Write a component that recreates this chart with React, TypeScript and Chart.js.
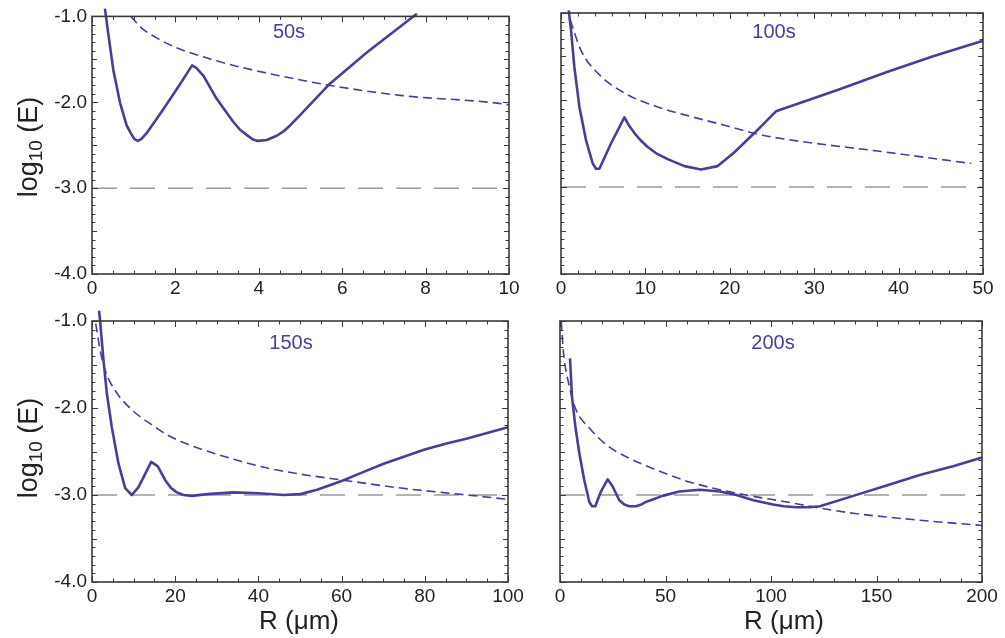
import React, { useEffect, useRef } from "react";
import { Chart, registerables } from "chart.js";

Chart.register(...registerables);
Chart.defaults.font.family = "'Liberation Sans', Arial, sans-serif";

// ---------- DATA ----------
// Panel 50 s
const r50Solid = [0.31, 0.39, 0.51, 0.67, 0.83, 0.93, 1.02, 1.1, 1.18, 1.31, 1.71, 2.11, 2.4, 2.5, 2.67, 2.99, 3.39, 3.55, 3.71, 3.85, 3.97, 4.19, 4.43, 4.59, 4.75, 4.99, 5.67, 6.59, 7.79];
const e50Solid = [-0.91, -1.2, -1.62, -2.0, -2.27, -2.36, -2.43, -2.45, -2.43, -2.36, -2.08, -1.79, -1.57, -1.6, -1.69, -1.96, -2.23, -2.32, -2.38, -2.43, -2.45, -2.44, -2.39, -2.34, -2.27, -2.15, -1.8, -1.42, -0.97];
const r50Dash = [0.93, 1.2, 1.55, 2.0, 2.59, 3.15, 4.19, 5.79, 7.39, 10.0, 10.18];
const e50Dash = [-1.0, -1.14, -1.25, -1.36, -1.46, -1.54, -1.66, -1.81, -1.92, -2.03, -2.05];

// Panel 100 s
const r100Solid = [0.91, 1.19, 1.58, 2.18, 2.96, 3.76, 4.15, 4.55, 5.92, 7.51, 8.1, 8.7, 9.4, 10.27, 11.4, 12.64, 14.62, 16.59, 18.57, 20.55, 22.91, 25.47, 32.6, 38.55, 44, 50];
const e100Solid = [-0.97, -1.2, -1.62, -2.08, -2.46, -2.73, -2.79, -2.79, -2.5, -2.2, -2.3, -2.38, -2.46, -2.54, -2.62, -2.68, -2.76, -2.8, -2.76, -2.6, -2.38, -2.13, -1.89, -1.68, -1.5, -1.32];
const r100Dash = [1.1, 2.37, 4.35, 7.51, 11.46, 15.4, 19.36, 22.75, 25.28, 38.55, 48.62];
const e100Dash = [-1.08, -1.43, -1.69, -1.92, -2.08, -2.19, -2.29, -2.38, -2.43, -2.6, -2.73];

// Panel 150 s
const r150Solid = [1.7, 1.97, 2.76, 3.56, 4.76, 6.37, 7.98, 9.57, 11.18, 14.23, 15.82, 17.6, 19.0, 20.4, 22.0, 24.0, 27.7, 34.1, 40.0, 46.1, 50.1, 54.1, 60.5, 65.0, 70.1, 79.8, 85.0, 90.2, 100];
const e150Solid = [-0.88, -1.01, -1.45, -1.83, -2.22, -2.64, -2.92, -3.0, -2.91, -2.62, -2.67, -2.83, -2.92, -2.97, -3.0, -3.01, -2.99, -2.97, -2.98, -3.0, -2.99, -2.94, -2.83, -2.74, -2.64, -2.48, -2.41, -2.35, -2.22];
const r150Dash = [0.9, 1.97, 3.17, 5.58, 9.57, 15.2, 18.1, 23.2, 26.1, 34.1, 42.1, 50.1, 60.5, 74.2, 90.2, 100];
const e150Dash = [-1.03, -1.34, -1.57, -1.8, -2.02, -2.22, -2.31, -2.42, -2.47, -2.59, -2.69, -2.76, -2.83, -2.92, -3.0, -3.05];

// Panel 200 s
const r200Solid = [4.74, 5.68, 7.26, 9.16, 11.5, 13.9, 15.2, 16.7, 19.4, 22.6, 24.9, 28.1, 30.5, 32.8, 36.0, 38.5, 40.7, 48.6, 56.5, 66.3, 75.8, 83.7, 91.6, 101, 106, 112, 118, 123.2, 139, 154.8, 170.5, 186.3, 200];
const e200Solid = [-1.43, -1.87, -2.21, -2.52, -2.83, -3.08, -3.13, -3.13, -2.96, -2.82, -2.9, -3.06, -3.11, -3.13, -3.13, -3.11, -3.08, -3.01, -2.96, -2.94, -2.96, -3.0, -3.06, -3.11, -3.13, -3.14, -3.14, -3.13, -3.01, -2.89, -2.77, -2.67, -2.57];
const r200Dash = [0.6, 1.6, 4.5, 7.58, 13.9, 21.8, 29.7, 45.5, 61.3, 83.7, 107.4, 123.2, 139, 170.5, 200];
const e200Dash = [-1.0, -1.35, -1.76, -2.02, -2.23, -2.42, -2.54, -2.71, -2.85, -2.98, -3.08, -3.15, -3.21, -3.29, -3.35];

const refLevel = -3.0;
const yTickLabels = [-1.0, -2.0, -3.0, -4.0];
const panelTitles = ["50s", "100s", "150s", "200s"];
const xMaxima = [10, 50, 100, 200];
const xLabelSteps = [2, 10, 20, 50];
const xMinorSteps = [0.5, 2, 5, 10];

// ---------- STYLE ----------
const PURPLE = "#4e3b97";
const GREY = "#9b9b9b";
const AXIS = "#3a3a3a";
const FONT = "'Liberation Sans', Arial, Helvetica, sans-serif";

const pts = (xs: number[], ys: number[]) => xs.map((x, i) => ({ x, y: ys[i] }));

const frameTicks = {
  id: "frameTicks",
  afterDatasetsDraw(chart: any, _a: any, opts: any) {
    const { ctx, chartArea: a, scales } = chart;
    const xs = scales.x;
    const ys = scales.y;
    ctx.save();
    ctx.strokeStyle = AXIS;
    ctx.lineWidth = 1;
    const line = (x1: number, y1: number, x2: number, y2: number) => {
      ctx.beginPath();
      ctx.moveTo(x1, y1);
      ctx.lineTo(x2, y2);
      ctx.stroke();
    };
    const isMult = (v: number, s: number) => Math.abs(v / s - Math.round(v / s)) < 1e-6;
    const nx = Math.round((xs.max - xs.min) / opts.xMinor);
    for (let i = 0; i <= nx; i++) {
      const v = xs.min + i * opts.xMinor;
      const px = Math.round(xs.getPixelForValue(v)) + 0.5;
      const len = isMult(v, opts.xMajor) ? 6 : 3.5;
      line(px, a.bottom, px, a.bottom - len);
      line(px, a.top, px, a.top + len);
    }
    const ny = Math.round((ys.max - ys.min) / 0.1);
    for (let i = 0; i <= ny; i++) {
      const v = ys.min + i * 0.1;
      const py = Math.round(ys.getPixelForValue(v)) + 0.5;
      const len = isMult(v, 1) ? 6 : isMult(v, 0.5) ? 5 : 3.5;
      line(a.left, py, a.left + len, py);
      line(a.right, py, a.right - len, py);
    }
    ctx.lineWidth = 1.6;
    ctx.strokeRect(a.left, a.top, a.right - a.left, a.bottom - a.top);
    ctx.restore();
  },
};

type PanelProps = {
  idx: number;
  solidX: number[];
  solidY: number[];
  dashX: number[];
  dashY: number[];
  left: number;
  top: number;
  width: number;
  height: number;
  padLeft: number;
  padRight: number;
  padTop: number;
  xAxisH: number;
  showY: boolean;
};

function Panel(p: PanelProps) {
  const ref = useRef<HTMLCanvasElement | null>(null);
  useEffect(() => {
    if (!ref.current) return;
    const xMax = xMaxima[p.idx];
    const chart = new Chart(ref.current, {
      type: "scatter",
      data: {
        datasets: [
          {
            data: pts([0, xMax], [refLevel, refLevel]),
            borderColor: GREY,
            borderWidth: 1.5,
            borderDash: [25, 13],
            showLine: true,
            pointRadius: 0,
            order: 3,
          },
          {
            data: pts(p.dashX, p.dashY),
            borderColor: PURPLE,
            borderWidth: 1.6,
            borderDash: [9, 5],
            showLine: true,
            pointRadius: 0,
            cubicInterpolationMode: "monotone",
            clip: false,
            order: 2,
          },
          {
            data: pts(p.solidX, p.solidY),
            borderColor: PURPLE,
            borderWidth: 2.6,
            borderJoinStyle: "round",
            showLine: true,
            pointRadius: 0,
            tension: 0,
            clip: false,
            order: 1,
          },
        ] as any,
      },
      options: {
        animation: false,
        responsive: false,
        devicePixelRatio: 1,
        events: [],
        layout: {
          autoPadding: false,
          padding: { left: p.padLeft, right: p.padRight, top: p.padTop, bottom: 0 },
        },
        plugins: {
          legend: { display: false },
          tooltip: { enabled: false },
          frameTicks: { xMinor: xMinorSteps[p.idx], xMajor: xLabelSteps[p.idx] },
        } as any,
        scales: {
          x: {
            type: "linear",
            min: 0,
            max: xMax,
            grid: { display: false, drawTicks: false },
            border: { display: false },
            ticks: {
              stepSize: xLabelSteps[p.idx],
              autoSkip: false,
              maxRotation: 0,
              padding: 3,
              color: "#222",
              font: { size: 19, family: FONT },
            },
            afterFit: (s: any) => {
              s.height = p.xAxisH;
            },
          },
          y: {
            type: "linear",
            min: -4,
            max: -1,
            display: p.showY,
            grid: { display: false, drawTicks: false },
            border: { display: false },
            afterBuildTicks: (s: any) => {
              s.ticks = yTickLabels.map((v) => ({ value: v }));
            },
            ticks: {
              padding: 5,
              color: "#222",
              font: { size: 19, family: FONT },
              callback: (v: any) => Number(v).toFixed(1),
            },
            afterFit: (s: any) => {
              s.width = p.showY ? 92 : 0;
            },
          },
        },
      } as any,
      plugins: [frameTicks],
    });
    return () => chart.destroy();
  }, []);
  return (
    <canvas
      ref={ref}
      width={p.width}
      height={p.height}
      style={{ position: "absolute", left: p.left, top: p.top, width: p.width, height: p.height }}
    />
  );
}

const labelStyle = (cx: number, cy: number): React.CSSProperties => ({
  position: "absolute",
  left: cx,
  top: cy,
  transform: "translate(-50%, -50%)",
  fontFamily: FONT,
  fontSize: 20,
  color: PURPLE,
  whiteSpace: "nowrap",
  lineHeight: 1,
});

const yTitleStyle = (cx: number, cy: number): React.CSSProperties => ({
  position: "absolute",
  left: cx,
  top: cy,
  transform: "translate(-50%, -50%) rotate(-90deg)",
  fontFamily: FONT,
  fontSize: 27,
  color: "#222",
  whiteSpace: "nowrap",
  lineHeight: 1,
});

const xTitleStyle = (cx: number, cy: number): React.CSSProperties => ({
  position: "absolute",
  left: cx,
  top: cy,
  transform: "translate(-50%, -50%)",
  fontFamily: FONT,
  fontSize: 26,
  color: "#222",
  whiteSpace: "nowrap",
  lineHeight: 1,
});

export default function App() {
  return (
    <div
      style={{
        position: "absolute",
        left: 0,
        top: 0,
        width: 1005,
        height: 638,
        background: "#fff",
        overflow: "hidden",
      }}
    >
      <Panel idx={0} solidX={r50Solid} solidY={e50Solid} dashX={r50Dash} dashY={e50Dash}
        left={0} top={0} width={540} height={300} padLeft={0} padRight={31} padTop={13} xAxisH={26} showY={true} />
      <Panel idx={1} solidX={r100Solid} solidY={e100Solid} dashX={r100Dash} dashY={e100Dash}
        left={540} top={0} width={465} height={300} padLeft={21} padRight={22} padTop={13} xAxisH={26} showY={false} />
      <Panel idx={2} solidX={r150Solid} solidY={e150Solid} dashX={r150Dash} dashY={e150Dash}
        left={0} top={300} width={540} height={338} padLeft={0} padRight={32} padTop={21} xAxisH={56} showY={true} />
      <Panel idx={3} solidX={r200Solid} solidY={e200Solid} dashX={r200Dash} dashY={e200Dash}
        left={540} top={300} width={465} height={338} padLeft={20} padRight={23} padTop={21} xAxisH={56} showY={false} />

      <div style={labelStyle(289, 31)}>{panelTitles[0]}</div>
      <div style={labelStyle(774, 31)}>{panelTitles[1]}</div>
      <div style={labelStyle(291, 342)}>{panelTitles[2]}</div>
      <div style={labelStyle(773, 342)}>{panelTitles[3]}</div>

      <div style={yTitleStyle(28, 147)}>
        log<sub style={{ fontSize: 19, verticalAlign: "-0.28em", lineHeight: 0 }}>10</sub> (E)
      </div>
      <div style={yTitleStyle(28, 448)}>
        log<sub style={{ fontSize: 19, verticalAlign: "-0.28em", lineHeight: 0 }}>10</sub> (E)
      </div>

      <div style={xTitleStyle(299, 620)}>R (μm)</div>
      <div style={xTitleStyle(784, 620)}>R (μm)</div>
    </div>
  );
}
